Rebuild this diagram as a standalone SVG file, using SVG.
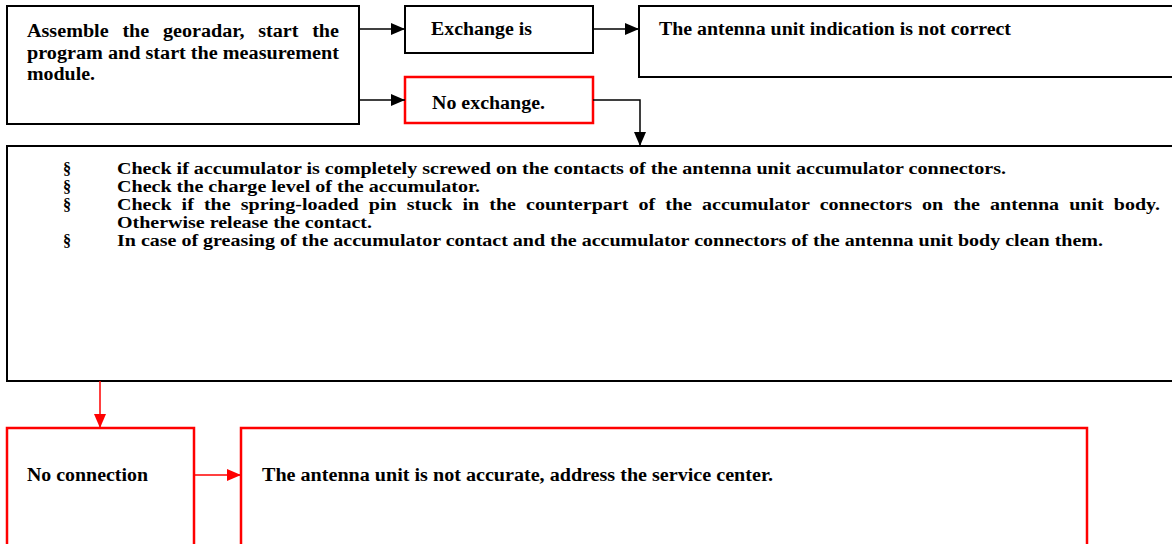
<svg xmlns="http://www.w3.org/2000/svg" width="1172" height="544" viewBox="0 0 1172 544">
<style>
  text { font-family: "Liberation Serif", "Times New Roman", serif; font-weight: bold; fill: #000; }
  .t { font-size: 18px; }
  .b { font-size: 16.2px; }
  .bk { fill: #fff; stroke: #000; stroke-width: 2; }
  .rd { fill: #fff; stroke: #ff0000; stroke-width: 2.5; }
  .cb { fill: none; stroke: #000; stroke-width: 1.5; }
  .cr { fill: none; stroke: #ff0000; stroke-width: 1.5; }
</style>
<defs>
  <marker id="ab" markerWidth="14" markerHeight="12" refX="14" refY="6" orient="auto" markerUnits="userSpaceOnUse">
    <path d="M0,0 L14,6 L0,12 Z" fill="#000"/>
  </marker>
  <marker id="ar" markerWidth="14" markerHeight="12" refX="14" refY="6" orient="auto" markerUnits="userSpaceOnUse">
    <path d="M0,0 L14,6 L0,12 Z" fill="#ff0000"/>
  </marker>
</defs>
<g id="n-assemble">
  <rect class="bk" x="7" y="6" width="352" height="118"/>
  <text class="t" x="27" y="36.5" word-spacing="7.8" textLength="312" lengthAdjust="spacingAndGlyphs">Assemble the georadar, start the</text>
  <text class="t" x="27" y="58.5" textLength="312" lengthAdjust="spacingAndGlyphs">program and start the measurement</text>
  <text class="t" x="27" y="80" textLength="68" lengthAdjust="spacingAndGlyphs">module.</text>
</g>
<g id="n-exchange">
  <rect class="bk" x="405" y="6" width="188" height="47"/>
  <text class="t" x="431" y="35" textLength="101" lengthAdjust="spacingAndGlyphs">Exchange is</text>
</g>
<g id="n-noexchange">
  <rect class="rd" x="405" y="77" width="188" height="46"/>
  <text class="t" x="432" y="108.5" textLength="113" lengthAdjust="spacingAndGlyphs">No exchange.</text>
</g>
<g id="n-indication">
  <rect class="bk" x="639" y="6" width="540" height="71"/>
  <text class="t" x="659" y="35" textLength="352" lengthAdjust="spacingAndGlyphs">The antenna unit indication is not correct</text>
</g>
<g id="n-check">
  <rect class="bk" x="7" y="146" width="1172" height="235"/>
  <text class="b" x="63" y="174">§</text>
  <text class="b" x="117" y="174" textLength="889" lengthAdjust="spacingAndGlyphs">Check if accumulator is completely screwed on the contacts of the antenna unit accumulator connectors.</text>
  <text class="b" x="63" y="192">§</text>
  <text class="b" x="117" y="192" textLength="363" lengthAdjust="spacingAndGlyphs">Check the charge level of the accumulator.</text>
  <text class="b" x="63" y="210">§</text>
  <text class="b" x="117" y="210" word-spacing="4.1" textLength="1043" lengthAdjust="spacingAndGlyphs">Check if the spring-loaded pin stuck in the counterpart of the accumulator connectors on the antenna unit body.</text>
  <text class="b" x="117" y="228" textLength="255" lengthAdjust="spacingAndGlyphs">Otherwise release the contact.</text>
  <text class="b" x="63" y="246">§</text>
  <text class="b" x="117" y="246" textLength="986" lengthAdjust="spacingAndGlyphs">In case of greasing of the accumulator contact and the accumulator connectors of the antenna unit body clean them.</text>
</g>
<g id="n-noconnection">
  <rect class="rd" x="7" y="428" width="187" height="130"/>
  <text class="t" x="27" y="480.5" textLength="121" lengthAdjust="spacingAndGlyphs">No connection</text>
</g>
<g id="n-service">
  <rect class="rd" x="241" y="428" width="846" height="130"/>
  <text class="t" x="262" y="480.5" textLength="511" lengthAdjust="spacingAndGlyphs">The antenna unit is not accurate, address the service center.</text>
</g>
<g id="connectors">
  <path class="cb" d="M359,29 L405,29" marker-end="url(#ab)"/>
  <path class="cb" d="M359,100 L405,100" marker-end="url(#ab)"/>
  <path class="cb" d="M593,29 L639,29" marker-end="url(#ab)"/>
  <path class="cb" d="M593,100 L640,100 L640,146" marker-end="url(#ab)"/>
  <path class="cr" d="M100,381 L100,428" marker-end="url(#ar)"/>
  <path class="cr" d="M194,475 L241,475" marker-end="url(#ar)"/>
</g>
</svg>
